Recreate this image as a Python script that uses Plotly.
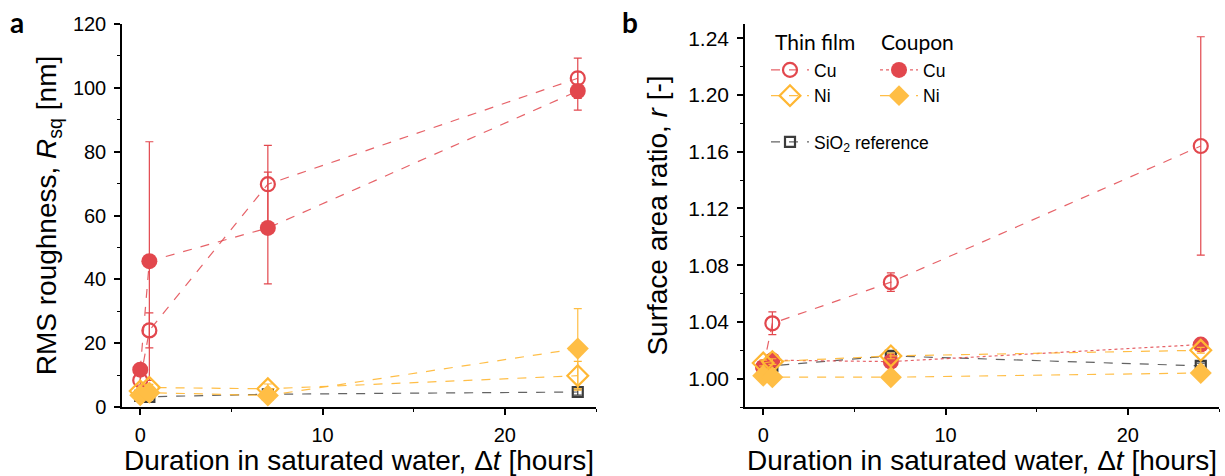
import plotly.graph_objects as go

# ---------------- data ----------------
hours = [0, 0.5, 7, 24]

# panel a: RMS roughness R_sq [nm]
rsq_cu_film = [8.4, 24.0, 69.8, 103.0]
rsq_cu_film_err = [1.5, 5.5, 12.2, 6.3]
rsq_cu_coupon = [11.7, 45.7, 56.1, 99.0]
rsq_cu_coupon_err = [1.5, 37.4, 17.5, 6.0]
rsq_ni_film = [5.0, 6.1, 5.7, 9.8]
rsq_ni_film_err = [1.0, 1.0, 1.5, 4.5]
rsq_ni_coupon = [3.7, 4.5, 3.6, 18.3]
rsq_ni_coupon_err = [0.8, 0.8, 0.8, 12.5]
rsq_sio2 = [3.5, 3.2, 4.0, 4.7]
rsq_sio2_err = [0.5, 0.5, 0.5, 1.0]

# panel b: surface area ratio r [-]
r_cu_film = [1.008, 1.039, 1.068, 1.164]
r_cu_film_err = [0.002, 0.008, 0.0065, 0.077]
r_cu_coupon = [1.008, 1.013, 1.012, 1.024]
r_cu_coupon_err = [0.002, 0.002, 0.002, 0.002]
r_ni_film = [1.011, 1.012, 1.016, 1.020]
r_ni_film_err = [0.002, 0.002, 0.002, 0.002]
r_ni_coupon = [1.002, 1.001, 1.001, 1.004]
r_ni_coupon_err = [0.002, 0.002, 0.003, 0.002]
r_sio2 = [1.006, 1.009, 1.016, 1.009]
r_sio2_err = [0.001, 0.001, 0.002, 0.002]

legend_headers = ["Thin film", "Coupon"]

# ---------------- styles ----------------
RED = "#E2474D"
RED_LINE = "rgba(226,71,77,0.85)"
ORANGE = "#FFBE45"
ORANGE_OPEN = "#FFB733"
ORANGE_LINE = "rgba(255,183,51,0.9)"
GRAY = "#3C3C3C"
GRAY_LINE = "rgba(60,60,60,0.8)"

series = [
    # name, legend, symbol, color, line color, dash (a), dash (b), size
    ("Cu", "legend", "circle-open", RED, RED_LINE, "dash", "dash", 14),
    ("Cu", "legend2", "circle", RED, RED_LINE, "dash", "dot", 16),
    ("Ni", "legend", "diamond-open", ORANGE_OPEN, ORANGE_LINE, "dash", "dash", 16),
    ("Ni", "legend2", "diamond", ORANGE, ORANGE_LINE, "dash", "dash", 17),
    ("SiO<sub>2</sub> reference", "legend3", "square-open", GRAY, GRAY_LINE, "dash", "dash", 10),
]
data_a = [
    (rsq_cu_film, rsq_cu_film_err),
    (rsq_cu_coupon, rsq_cu_coupon_err),
    (rsq_ni_film, rsq_ni_film_err),
    (rsq_ni_coupon, rsq_ni_coupon_err),
    (rsq_sio2, rsq_sio2_err),
]
data_b = [
    (r_cu_film, r_cu_film_err),
    (r_cu_coupon, r_cu_coupon_err),
    (r_ni_film, r_ni_film_err),
    (r_ni_coupon, r_ni_coupon_err),
    (r_sio2, r_sio2_err),
]

fig = go.Figure()

order = [4, 0, 1, 2, 3]  # draw SiO2 first, Ni last
for panel, data, xa, ya in [("a", data_a, "x", "y"), ("b", data_b, "x2", "y2")]:
    for i in order:
        name, leg, sym, col, lcol, dash_a, dash_b, size = series[i]
        y, err = data[i]
        open_sym = sym.endswith("open")
        fig.add_trace(go.Scatter(
            x=hours, y=y, xaxis=xa, yaxis=ya,
            mode="lines+markers", name=name,
            legend=leg, showlegend=(panel == "b"),
            line=dict(color=lcol, width=1.2, dash=dash_a if panel == "a" else dash_b),
            marker=dict(symbol=sym, size=size, color=col,
                        line=dict(width=2.2 if open_sym else 0, color=col)),
            error_y=dict(type="data", array=err, visible=True,
                         color=col, thickness=1.2, width=4),
        ))

# ---------------- layout ----------------
FAM = "Liberation Sans, Arial"
TITLEFONT = dict(family=FAM, size=28, color="black")

def xax(domain, anchor):
    return dict(domain=domain, anchor=anchor, range=[-1, 25], automargin=False,
                tickmode="linear", tick0=0, dtick=10,
                showline=True, linecolor="black", linewidth=1.5,
                ticks="outside", ticklen=6, tickwidth=1.5, tickcolor="black",
                minor=dict(ticks="outside", ticklen=3.5, dtick=5, tick0=0,
                           tickwidth=1.2, tickcolor="black"),
                showgrid=False, zeroline=False,
                tickfont=dict(family=FAM, size=20, color="black"), ticklabelstandoff=3,
                title=dict(text="Duration in saturated water, Δ<i>t</i> [hours]",
                           font=TITLEFONT, standoff=6))

LEGFONT = dict(family=FAM, size=17.5, color="black")
fig.update_layout(
    width=1225, height=476,
    margin=dict(l=0, r=0, t=0, b=0, autoexpand=False),
    paper_bgcolor="white", plot_bgcolor="white",
    xaxis=xax([122/1225, 596/1225], "y"),
    xaxis2=xax([745/1225, 1219/1225], "y2"),
    yaxis=dict(domain=[69/476, 452/476], anchor="x", range=[0, 120], automargin=False,
               tickmode="linear", tick0=0, dtick=20,
               showline=True, linecolor="black", linewidth=1.5,
               ticks="outside", ticklen=6, tickwidth=1.5, tickcolor="black",
               minor=dict(ticks="outside", ticklen=3.5, dtick=10, tick0=0,
                          tickwidth=1.2, tickcolor="black"),
               showgrid=False, zeroline=False,
               tickfont=dict(family=FAM, size=20, color="black"), ticklabelstandoff=4,
               title=dict(text="RMS roughness, <i>R</i><sub>sq</sub> [nm]",
                          font=TITLEFONT, standoff=8)),
    yaxis2=dict(domain=[69/476, 452/476], anchor="x2", range=[0.98, 1.25], automargin=False,
                tickmode="linear", tick0=1.0, dtick=0.04, tickformat=".2f",
                showline=True, linecolor="black", linewidth=1.5,
                ticks="outside", ticklen=6, tickwidth=1.5, tickcolor="black",
                minor=dict(ticks="outside", ticklen=3.5, dtick=0.02, tick0=1.0,
                           tickwidth=1.2, tickcolor="black"),
                showgrid=False, zeroline=False,
                tickfont=dict(family=FAM, size=21, color="black"), ticklabelstandoff=4,
                title=dict(text="Surface area ratio, <i>r</i> [-]",
                           font=TITLEFONT, standoff=12)),
    legend=dict(x=766/1225, y=1 - 52/476, xanchor="left", yanchor="top",
                bgcolor="rgba(0,0,0,0)", borderwidth=0, itemwidth=38,
                font=LEGFONT),
    legend2=dict(x=875/1225, y=1 - 52/476, xanchor="left", yanchor="top",
                 bgcolor="rgba(0,0,0,0)", borderwidth=0, itemwidth=38,
                 font=LEGFONT),
    legend3=dict(x=766/1225, y=1 - 124/476, xanchor="left", yanchor="top",
                 bgcolor="rgba(0,0,0,0)", borderwidth=0, itemwidth=38,
                 font=LEGFONT),
    annotations=[
        dict(text="<b>a</b>", x=8/1225, y=1 - 3/476, xref="paper", yref="paper",
             xanchor="left", yanchor="top", showarrow=False,
             font=dict(family="Lato", size=28, color="black")),
        dict(text="<b>b</b>", x=620/1225, y=1 - 3/476, xref="paper", yref="paper",
             xanchor="left", yanchor="top", showarrow=False,
             font=dict(family="Lato", size=28, color="black")),
        dict(text=legend_headers[0], x=773/1225, y=1 - 41/476, xref="paper", yref="paper",
             xanchor="left", yanchor="middle", showarrow=False,
             font=dict(family="Lato", size=21, color="black")),
        dict(text=legend_headers[1], x=879/1225, y=1 - 41/476, xref="paper", yref="paper",
             xanchor="left", yanchor="middle", showarrow=False,
             font=dict(family="Lato", size=21, color="black")),
    ],
)

fig.write_html("out.html")
